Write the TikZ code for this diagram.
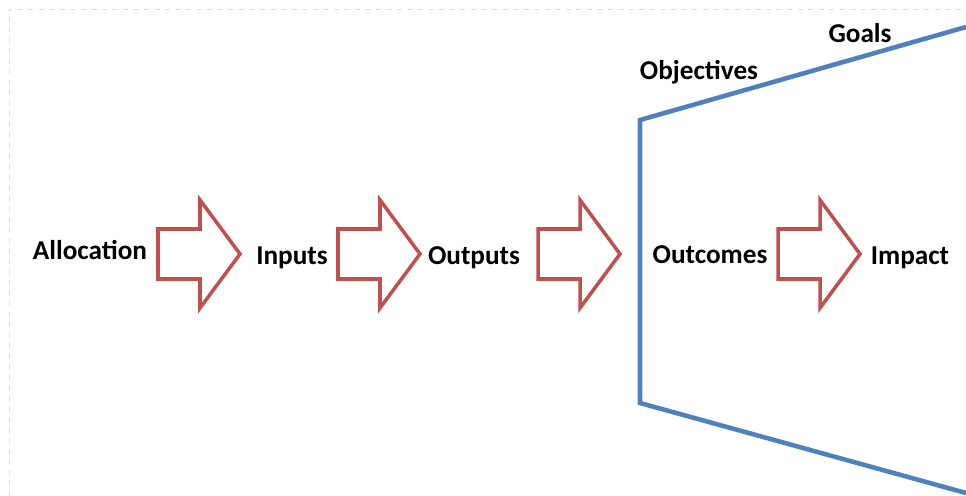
\documentclass[tikz,border=0pt]{standalone}
\usepackage{fontspec}
\setmainfont{Carlito}
\usetikzlibrary{positioning}
\definecolor{flowred}{HTML}{C0504D}
\definecolor{flowblue}{HTML}{4F81BD}

\begin{document}
\begin{tikzpicture}[x=0.02cm, y=-0.02cm,
    stage/.style={font=\fontsize{15.5}{18}\selectfont\bfseries, anchor=base, inner sep=0pt},
    bigarrow/.style={draw=flowred, line width=2pt, line join=miter, fill=white},
    funnel/.style={draw=flowblue, line width=2.6pt, line join=miter}]
      \useasboundingbox (0,0) rectangle (966,496);
      % faint page frame
      \draw[gray!25, dashed, line width=0.4pt] (9,496) -- (9,9) -- (966,9);
      % hollow arrows between the stages
      \foreach \x in {158,338,538,778} {
        \draw[bigarrow] (\x,229) -- ++(42,0) -- ++(0,-29) -- ++(40,54) -- ++(-40,54)
          -- ++(0,-29) -- ++(-42,0) -- cycle;
      }
      % widening funnel
      \coordinate (ftopr) at (966,27);
      \coordinate (ftopl) at (640,120);
      \coordinate (fbotl) at (640,403);
      \coordinate (fbotr) at (966,493);
      \draw[funnel] (ftopr) -- (ftopl) -- (fbotl) -- (fbotr);
      \node[stage] (alloc) at (90,260) {Allocation};
      \node[stage] (inputs) at (292,265) {Inputs};
      \node[stage] (outputs) at (474,265) {Outputs};
      \node[stage] (outcomes) at (710,264) {Outcomes};
      \node[stage] (impact) at (910,265) {Impact};
      \node[stage] (objectives) at (699,80) {Objectives};
      \node[stage] (goals) at (860,43) {Goals};
\end{tikzpicture}
\end{document}
